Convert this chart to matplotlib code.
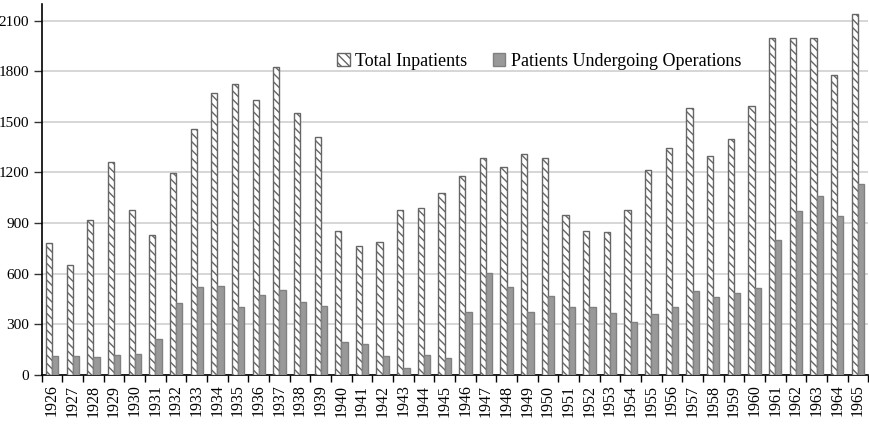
import numpy as np
import matplotlib
matplotlib.use("Agg")
import matplotlib.pyplot as plt

years = list(range(1926, 1966))
total_inpatients = [780, 650, 920, 1260, 980, 830, 1195, 1460, 1670, 1725,
                    1630, 1825, 1555, 1410, 855, 765, 785, 975, 990, 1080,
                    1180, 1285, 1235, 1310, 1285, 950, 850, 845, 975, 1215,
                    1345, 1580, 1300, 1400, 1595, 2000, 2000, 2000, 1780, 2140]
operations = [110, 110, 105, 115, 125, 210, 425, 520, 525, 400,
              475, 505, 430, 410, 195, 180, 110, 40, 115, 100,
              370, 605, 520, 375, 465, 405, 405, 365, 315, 360,
              405, 495, 460, 485, 515, 800, 970, 1058, 940, 1133]
y_ticks = [0, 300, 600, 900, 1200, 1500, 1800, 2100]

plt.rcParams['font.family'] = ['Liberation Serif', 'DejaVu Serif']
plt.rcParams['hatch.linewidth'] = 1.0
plt.rcParams['hatch.color'] = '#111111'

fig = plt.figure(figsize=(8.7, 4.24), dpi=100)
ax = fig.add_axes([0.048, 0.116, 0.950, 0.875])

x = np.arange(len(years))
w = 0.3
ax.bar(x - w / 2, total_inpatients, w, facecolor='white', edgecolor='#666666',
       linewidth=1.0, hatch='\\\\\\\\', label='Total Inpatients', zorder=3)
ax.bar(x + w / 2, operations, w, facecolor='#999999', edgecolor='#808080',
       linewidth=1.0, label='Patients Undergoing Operations', zorder=3)

ax.set_xlim(-0.5, len(years) - 0.5)
ax.set_ylim(0, 2200)
ax.set_yticks(y_ticks)
ax.set_yticklabels([str(v) for v in y_ticks], fontsize=11)
ax.yaxis.grid(True, color='#d0d0d0', linewidth=1.2, zorder=0)
ax.set_axisbelow(True)

ax.set_xticks(x)
ax.set_xticklabels([str(y) for y in years], rotation=90, fontsize=11.5)
ax.set_xticks(np.arange(-0.5, len(years), 1), minor=True)
ax.tick_params(axis='x', which='major', length=0, pad=7)
ax.tick_params(axis='x', which='minor', length=5, width=1, color='black')
ax.tick_params(axis='y', length=6, width=1, color='#333333', pad=3)

for s in ['top', 'right']:
    ax.spines[s].set_visible(False)
ax.spines['left'].set_linewidth(1.2)
ax.spines['bottom'].set_linewidth(1.2)

fig.legend(loc='center', bbox_to_anchor=(539 / 870, 1 - 61 / 424), ncol=2,
           frameon=False, fontsize=13, handlelength=0.7, handleheight=0.7,
           handletextpad=0.3, columnspacing=1.4)

fig.savefig('out.png', dpi=100)
